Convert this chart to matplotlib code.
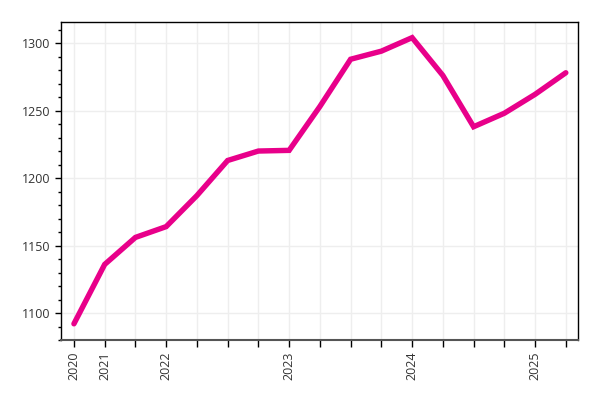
import matplotlib.pyplot as plt
import numpy as np

# values
values = [1092, 1136, 1156, 1164, 1187, 1213, 1220, 1220.5, 1253, 1288,
          1294, 1304, 1276, 1238, 1248, 1262, 1278]
tick_labels = ['2020', '2021', '', '2022', '', '', '', '2023', '', '',
               '', '2024', '', '', '', '2025', '']

plt.rcParams['font.family'] = ['Open Sans', 'DejaVu Sans']

fig = plt.figure(figsize=(6, 4), dpi=100)
ax = fig.add_axes([0.1017, 0.15, 0.8613, 0.795])

x = np.arange(len(values))
ax.plot(x, values, color='#e8008a', linewidth=3.9, solid_capstyle='round',
        solid_joinstyle='miter', zorder=3)

ax.set_xlim(-0.42, 16.39)
ax.set_ylim(1080, 1315.6)

ax.set_xticks(x)
ax.set_xticklabels(tick_labels, rotation=90, fontsize=9, color='#333333')
ax.set_yticks([1100, 1150, 1200, 1250, 1300])
ax.set_yticks(np.arange(1080, 1316, 10), minor=True)
ax.tick_params(axis='y', labelsize=9, labelcolor='#333333', length=4, width=1)
ax.tick_params(axis='y', which='minor', length=2.5, width=1)
ax.tick_params(axis='x', length=5, width=1)

ax.grid(True, color='#eeeeee', linewidth=1, zorder=0)
for s in ax.spines.values():
    s.set_linewidth(1)
    s.set_color('black')
ax.spines['bottom'].set_color('#555555')
ax.spines['bottom'].set_linewidth(1.5)

fig.savefig('out.png', dpi=100)
